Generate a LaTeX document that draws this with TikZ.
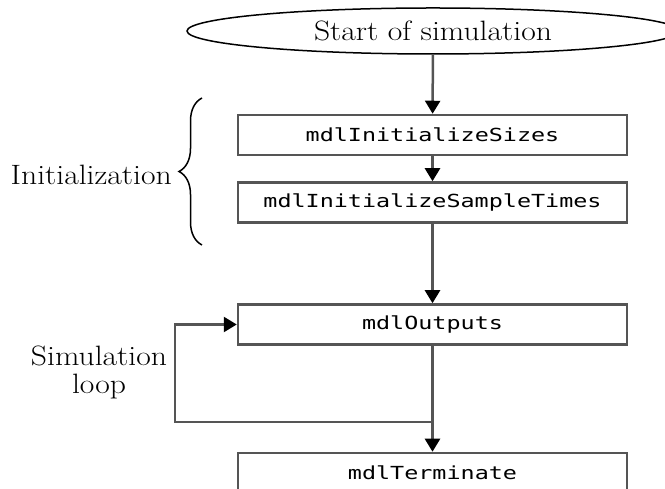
\documentclass[tikz,border=0pt]{standalone}
\usepackage{fontspec}
\newfontfamily\boxfont[FakeStretch=1.3]{DejaVu Sans Mono}
\newfontfamily\labelfont[FakeStretch=1.13]{Latin Modern Roman}
\usetikzlibrary{arrows.meta,shapes.geometric,decorations.pathreplacing}
\definecolor{edgegray}{HTML}{555555}
\begin{document}
\begin{tikzpicture}[x=1pt,y=1pt,
	funcbox/.style={draw=edgegray,line width=2.5pt,minimum width=389pt,minimum height=40pt,inner sep=0pt,font=\boxfont\fontsize{18}{18}\selectfont},
	flow/.style={draw=edgegray,line width=2.5pt,-{Triangle[width=15pt,length=13pt,color=black]}},
	sidetext/.style={font=\labelfont\fontsize{28}{28}\selectfont,align=center,inner sep=0pt}]
			\useasboundingbox (0,0) rectangle (665,489);
			\clip (0,0) rectangle (665,489);
			\node [ellipse,draw=black,line width=1.5pt,minimum width=492pt,minimum height=46pt,inner sep=0pt,font=\labelfont\fontsize{28}{28}\selectfont] (start) at (433,458) {Start of simulation};
			\node [funcbox] (sizes) at (432.5,354) {mdlInitializeSizes};
			\node [funcbox] (sampletimes) at (432.5,286.5) {mdlInitializeSampleTimes};
			\node [funcbox] (outputs) at (432.5,164.5) {mdlOutputs};
			\node [funcbox] (terminate) at (432.5,16) {mdlTerminate};
			\coordinate (join) at (432.5,67);
			\coordinate (loopleft) at (175,67);
			\coordinate (bracelow) at (202,244);
			\coordinate (bracehigh) at (202,391);
			\node [sidetext,anchor=base east] (initlabel) at (172,304) {Initialization};
			\node [sidetext] (looplabel) at (99,117) {Simulation\\loop};
			\draw [flow] (start) -- (sizes);
			\draw [flow] (sizes) -- (sampletimes);
			\draw [flow] (sampletimes) -- (outputs);
			\draw [draw=edgegray,line width=2.5pt] (outputs) -- (join);
			\draw [flow] (join) -- (terminate);
			\draw [flow] (join) -- (loopleft) |- (outputs);
			\draw [decorate,decoration={brace,amplitude=23pt},line width=1.5pt] (bracelow) -- (bracehigh);
		\end{tikzpicture}
\end{document}
